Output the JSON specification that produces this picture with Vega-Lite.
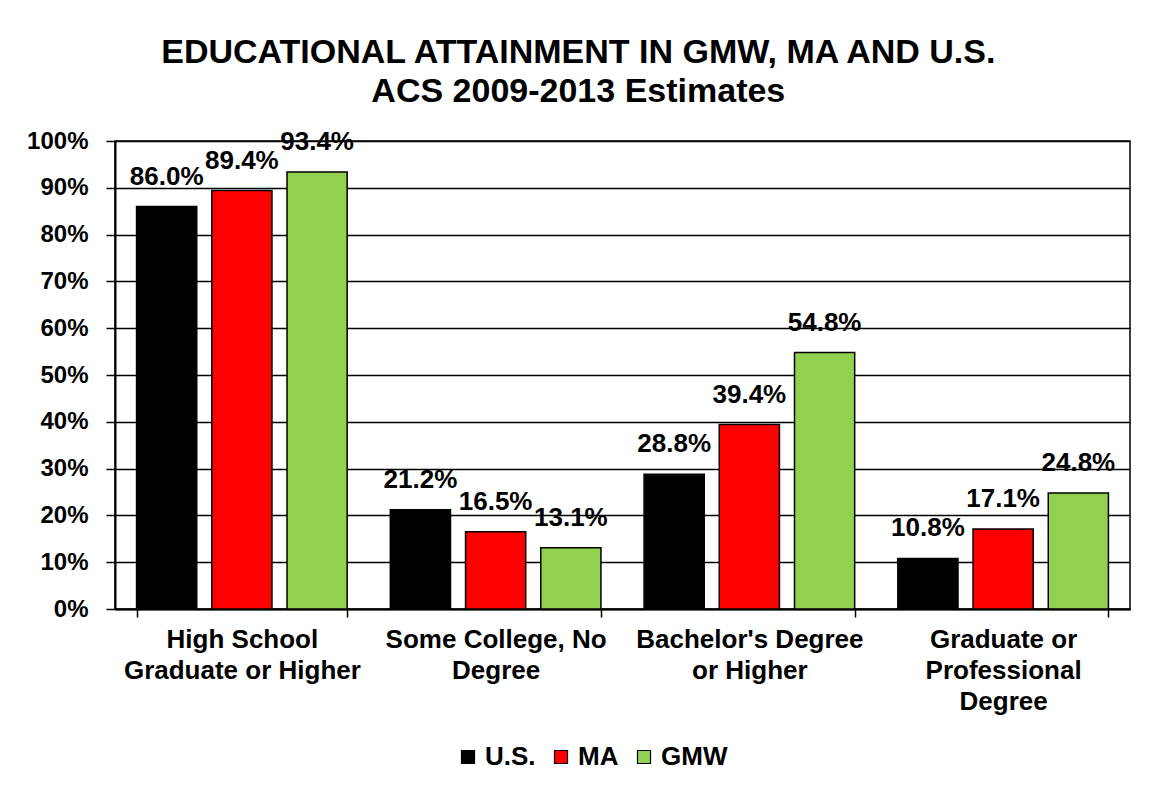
{
  "$schema": "https://vega.github.io/schema/vega-lite/v6.json",
  "autosize": {"type": "none"},
  "padding": {"left": 115, "top": 141, "right": 21, "bottom": 181},
  "width": 1015,
  "height": 468,
  "background": "white",
  "config": {
    "font": "Liberation Sans",
    "view": {"stroke": "black", "strokeWidth": 1.5},
    "axis": {"labelFontWeight": "bold", "labelColor": "black", "domainColor": "black", "tickColor": "black", "gridColor": "black"}
  },
  "title": {
    "text": ["EDUCATIONAL ATTAINMENT IN GMW, MA AND U.S.", "ACS 2009-2013 Estimates"],
    "font": "Liberation Sans",
    "fontSize": 34,
    "fontWeight": "bold",
    "color": "black",
    "lineHeight": 39,
    "anchor": "middle",
    "frame": "bounds",
    "offset": 20
  },
  "data": {
    "values": [
      {"category": "High School|Graduate or Higher", "series": "U.S.", "value": 0.860},
      {"category": "High School|Graduate or Higher", "series": "MA", "value": 0.894},
      {"category": "High School|Graduate or Higher", "series": "GMW", "value": 0.934},
      {"category": "Some College, No|Degree", "series": "U.S.", "value": 0.212},
      {"category": "Some College, No|Degree", "series": "MA", "value": 0.165},
      {"category": "Some College, No|Degree", "series": "GMW", "value": 0.131},
      {"category": "Bachelor's Degree|or Higher", "series": "U.S.", "value": 0.288},
      {"category": "Bachelor's Degree|or Higher", "series": "MA", "value": 0.394},
      {"category": "Bachelor's Degree|or Higher", "series": "GMW", "value": 0.548},
      {"category": "Graduate or|Professional|Degree", "series": "U.S.", "value": 0.108},
      {"category": "Graduate or|Professional|Degree", "series": "MA", "value": 0.171},
      {"category": "Graduate or|Professional|Degree", "series": "GMW", "value": 0.248}
    ]
  },
  "encoding": {
    "x": {
      "field": "category",
      "type": "nominal",
      "sort": null,
      "scale": {"paddingInner": 0.17, "paddingOuter": 0.085},
      "axis": {
        "title": null,
        "labelAngle": 0,
        "labelExpr": "split(datum.label, '|')",
        "labelFontSize": 26,
        "labelLineHeight": 31,
        "labelBaseline": "top",
        "labelPadding": 9,
        "tickBand": "extent",
        "tickSize": 8,
        "tickWidth": 1.5,
        "domainWidth": 2,
        "labelLimit": 400
      }
    },
    "xOffset": {"field": "series", "type": "nominal", "sort": ["U.S.", "MA", "GMW"], "scale": {"paddingInner": 0.2, "paddingOuter": 0}},
    "y": {
      "field": "value",
      "type": "quantitative",
      "scale": {"domain": [0, 1], "nice": false},
      "axis": {
        "title": null,
        "format": ".0%",
        "values": [0, 0.1, 0.2, 0.3, 0.4, 0.5, 0.6, 0.7, 0.8, 0.9, 1],
        "labelFontSize": 24,
        "labelPadding": 18,
        "tickSize": 9,
        "tickWidth": 1.5,
        "domainWidth": 2,
        "grid": true,
        "gridWidth": 1.5
      }
    }
  },
  "layer": [
    {
      "mark": {"type": "bar", "stroke": "black", "strokeWidth": 1.5},
      "encoding": {
        "color": {
          "field": "series",
          "type": "nominal",
          "sort": ["U.S.", "MA", "GMW"],
          "scale": {"domain": ["U.S.", "MA", "GMW"], "range": ["#000000", "#FF0000", "#92D050"]},
          "legend": {
            "title": null,
            "orient": "none",
            "direction": "horizontal",
            "legendX": 340,
            "legendY": 603,
            "symbolType": "square",
            "symbolSize": 170,
            "symbolStrokeColor": "black",
            "symbolStrokeWidth": 1.2,
            "symbolOpacity": 1,
            "labelFontSize": 26,
            "labelFontWeight": "bold",
            "labelColor": "black",
            "labelOffset": 4,
            "columnPadding": 12
          }
        }
      }
    },
    {
      "mark": {"type": "text", "baseline": "alphabetic", "dy": -22, "fontSize": 26, "fontWeight": "bold", "color": "black"},
      "encoding": {
        "text": {"field": "value", "type": "quantitative", "format": ".1%"}
      }
    }
  ]
}
